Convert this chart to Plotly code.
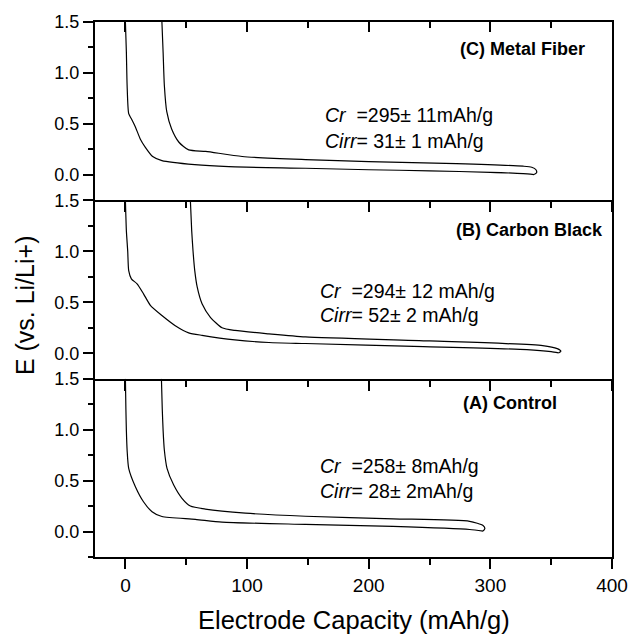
import plotly.graph_objects as go

# ---------------- data ----------------
# Panel (A) Control
dis_a_x = [0, 0.4, 0.8, 1.4, 2.7, 8.2, 15, 21.9, 30, 57.5, 79.4, 148, 220, 283, 294]
dis_a_y = [1.5, 1.2, 0.99, 0.80, 0.62, 0.44, 0.29, 0.195, 0.147, 0.12, 0.092, 0.07, 0.05, 0.02, 0.003]
chg_a_x = [294, 295.5, 294, 283, 220, 148, 98.6, 65.7, 53.4, 46.5, 39.7, 34.2, 32, 31, 30.3, 29.6]
chg_a_y = [0.003, 0.03, 0.06, 0.10, 0.125, 0.15, 0.18, 0.22, 0.25, 0.326, 0.456, 0.62, 0.80, 0.99, 1.2, 1.5]

# Panel (B) Carbon Black
dis_b_x = [0, 0.8, 1.9, 2.7, 4.9, 9.6, 15, 20.5, 30, 41, 52, 63, 90, 118, 148, 245, 330, 350, 356]
dis_b_y = [1.5, 1.2, 1.0, 0.81, 0.73, 0.68, 0.58, 0.47, 0.37, 0.27, 0.20, 0.175, 0.13, 0.105, 0.095, 0.065, 0.035, 0.015, 0.003]
chg_b_x = [356, 358, 355, 343, 250, 148, 118, 90, 79.4, 70, 63, 59, 57, 55.6, 54.5, 53.4]
chg_b_y = [0.003, 0.02, 0.045, 0.075, 0.12, 0.16, 0.19, 0.223, 0.25, 0.35, 0.485, 0.65, 0.81, 1.0, 1.2, 1.5]

# Panel (C) Metal Fiber
dis_c_x = [0, 0.8, 1.4, 2.7, 4.9, 8.2, 12.3, 16.4, 22.4, 30, 57, 85, 148, 200, 250, 300, 327, 336]
dis_c_y = [1.5, 1.2, 0.88, 0.60, 0.55, 0.47, 0.35, 0.27, 0.18, 0.14, 0.10, 0.08, 0.065, 0.05, 0.04, 0.025, 0.012, 0.003]
chg_c_x = [336, 338, 337.5, 334, 327, 272, 200, 148, 96, 66, 52, 44, 38, 34, 32, 31, 30]
chg_c_y = [0.003, 0.02, 0.05, 0.075, 0.085, 0.11, 0.13, 0.15, 0.18, 0.23, 0.245, 0.32, 0.45, 0.62, 0.88, 1.2, 1.5]

panel_labels = ["(A) Control", "(B) Carbon Black", "(C) Metal Fiber"]
cr_texts = ["=258± 8mAh/g", "=294± 12 mAh/g", "=295± 11mAh/g"]
cirr_texts = ["= 28± 2mAh/g", "= 52± 2 mAh/g", "= 31± 1 mAh/g"]

x_ticks = [0, 100, 200, 300, 400]
y_ticks = [0.0, 0.5, 1.0, 1.5]

# ---------------- figure ----------------
FONT = "Liberation Sans, Arial, sans-serif"
fig = go.Figure()

series = [
    (dis_a_x, dis_a_y, chg_a_x, chg_a_y, "x", "y"),
    (dis_b_x, dis_b_y, chg_b_x, chg_b_y, "x2", "y2"),
    (dis_c_x, dis_c_y, chg_c_x, chg_c_y, "x3", "y3"),
]
for dx, dy, cx, cy, xa, ya in series:
    for xs, ys in ((dx, dy), (cx, cy)):
        fig.add_trace(go.Scatter(
            x=xs, y=ys, xaxis=xa, yaxis=ya, mode="lines",
            line=dict(color="black", width=1.2, shape="spline", smoothing=0.6),
            showlegend=False, hoverinfo="skip"))

xcommon = dict(
    range=[-25, 400], showline=True, linewidth=2, linecolor="black", automargin=False,
    ticks="outside", ticklen=10, tickwidth=1.5, tickcolor="black",
    tickmode="array", tickvals=x_ticks, ticklabeloverflow="allow",
    minor=dict(dtick=50, tick0=0, ticklen=6, tickwidth=1.5, tickcolor="black", ticks="outside"),
    showgrid=False, zeroline=False,
    tickfont=dict(family=FONT, size=19, color="black"),
)
ycommon = dict(
    range=[-0.25, 1.5], showline=True, linewidth=2, linecolor="black", mirror=True, automargin=False,
    ticks="outside", ticklen=10, tickwidth=1.5, tickcolor="black",
    tickmode="array", tickvals=y_ticks, ticktext=[f"{v:.1f}" for v in y_ticks],
    minor=dict(dtick=0.25, tick0=0, ticklen=5, tickwidth=1.5, tickcolor="black", ticks="outside"),
    showgrid=False, zeroline=False,
    tickfont=dict(family=FONT, size=18, color="black"),
)

fig.update_layout(
    width=629, height=634,
    margin=dict(l=95, r=17, t=22, b=77, autoexpand=False),
    paper_bgcolor="white", plot_bgcolor="white",
    font=dict(family=FONT, color="black"),
    xaxis=dict(**xcommon, anchor="y", domain=[0, 1], mirror=False),
    xaxis2=dict(**xcommon, anchor="y2", domain=[0, 1], matches="x", showticklabels=False, mirror=False),
    xaxis3=dict(**xcommon, anchor="y3", domain=[0, 1], matches="x", showticklabels=False, mirror=False),
    yaxis=dict(**ycommon, anchor="x", domain=[0, 1/3]),
    yaxis2=dict(**ycommon, anchor="x2", domain=[1/3, 2/3]),
    yaxis3=dict(**ycommon, anchor="x3", domain=[2/3, 1]),
)
# inward ticks along the very top edge
top = dict(xcommon)
top.update(ticks="inside", showticklabels=False,
           minor=dict(dtick=50, tick0=0, ticklen=6, tickwidth=1.5, tickcolor="black", ticks="inside"))
fig.update_layout(xaxis4=dict(**top, overlaying="x3", anchor="y3", side="top"))
fig.add_trace(go.Scatter(x=[None], y=[None], xaxis="x4", yaxis="y3", showlegend=False))

# panel labels and capacity texts
label_pos = [(356.5, 1.258), (394.2, 1.205), (379.7, 1.24)]
cr_pos = [(158.5, 0.642, 0.393), (158.5, 0.606, 0.37), (162.4, 0.587, 0.337)]
refs = [("x", "y"), ("x2", "y2"), ("x3", "y3")]
for i in range(3):
    xr, yr = refs[i]
    lx, ly = label_pos[i]
    fig.add_annotation(x=lx, y=ly, xref=xr, yref=yr, text=f"<b>{panel_labels[i]}</b>",
                       showarrow=False, xanchor="right", yanchor="middle",
                       font=dict(family=FONT, size=18, color="black"))
    cx, y1, y2 = cr_pos[i]
    fig.add_annotation(x=cx, y=y1, xref=xr, yref=yr, text="<i>Cr</i>\u00a0\u00a0" + cr_texts[i],
                       showarrow=False, xanchor="left", yanchor="middle",
                       font=dict(family=FONT, size=19.5, color="black"))
    fig.add_annotation(x=cx, y=y2, xref=xr, yref=yr, text="<i>Cirr</i>" + cirr_texts[i],
                       showarrow=False, xanchor="left", yanchor="middle",
                       font=dict(family=FONT, size=19.5, color="black"))

# axis titles
fig.add_annotation(x=-0.1354, y=0.4708, xref="paper", yref="paper", text="E (vs. Li/Li+)",
                   textangle=-90, showarrow=False, xanchor="center", yanchor="middle",
                   font=dict(family=FONT, size=25, color="black"))
fig.add_annotation(x=0.5, y=-0.1177, xref="paper", yref="paper", text="Electrode Capacity (mAh/g)",
                   showarrow=False, xanchor="center", yanchor="middle",
                   font=dict(family=FONT, size=25.5, color="black"))

# remove the page's default body margin so the figure sits at the window origin
fig.write_html("out.html", config={"displayModeBar": False},
               post_script="document.body.style.margin='0';document.body.style.overflow='hidden';")
